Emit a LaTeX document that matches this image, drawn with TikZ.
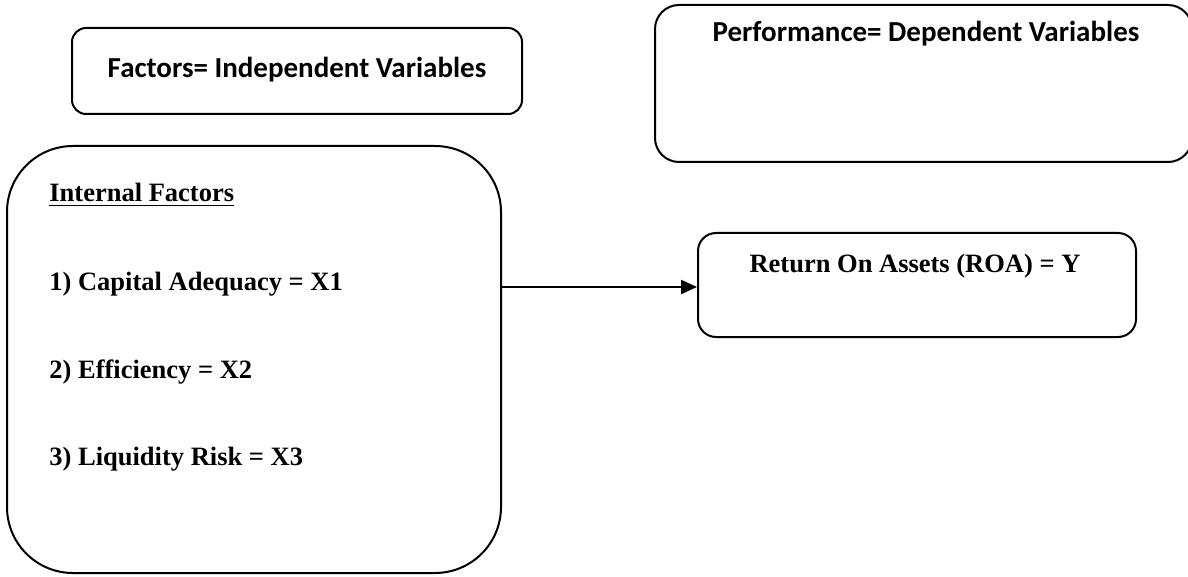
\documentclass[tikz,border=0pt]{standalone}
\usepackage{fontspec}
\setmainfont{Liberation Serif}
\newfontfamily\calibri{Carlito}
\usetikzlibrary{arrows.meta}

\begin{document}
\begin{tikzpicture}[x=0.5pt, y=-0.5pt,
  box/.style={draw, line width=1pt, inner sep=0pt},
  sanslbl/.style={font=\calibri\bfseries\fontsize{14.5}{17}\selectfont, inner sep=0pt, anchor=base},
  seriflbl/.style={font=\bfseries\fontsize{13.25}{16}\selectfont, inner sep=0pt}]
  \useasboundingbox (0,0) rectangle (1188,577);
  % boxes
  \node[box, rounded corners=7pt, minimum width=225pt, minimum height=43pt] (indep) at (297,71) {};
  \node[box, rounded corners=12pt, minimum width=268.5pt, minimum height=78.5pt] (dep) at (923.5,83.5) {};
  \node[box, rounded corners=33pt, minimum width=247pt, minimum height=213.5pt] (internal) at (254,359.5) {};
  \node[box, rounded corners=9pt, minimum width=219pt, minimum height=52pt] (roa) at (917,285) {};
  % headings
  \node[sanslbl] (indeplbl) at (297,78) {Factors= Independent Variables};
  \node[sanslbl] (deplbl) at (926,42) {Performance= Dependent Variables};
  % internal factors
  \node[seriflbl, anchor=base west] (intlbl) at (49,202) {\underline{Internal Factors}};
  \foreach \n/\t/\y in {1/{1) Capital Adequacy = X1}/291, 2/{2) Efficiency = X2}/378, 3/{3) Liquidity Risk = X3}/465} {
    \node[seriflbl, anchor=base west] (item\n) at (49,\y) {\t};
  }
  \node[seriflbl, anchor=base] (roalbl) at (915,272) {Return On Assets (ROA) = Y};
  % arrow
  \draw[line width=1pt, -{Triangle[length=8pt, width=7pt]}] (internal.east |- 0,287) -- (roa.west |- 0,287);
\end{tikzpicture}
\end{document}
